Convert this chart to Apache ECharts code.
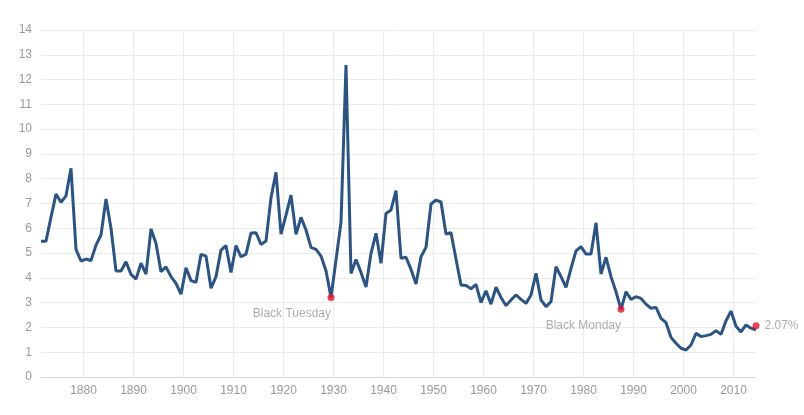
<!DOCTYPE html>
<html>
<head>
<meta charset="utf-8">
<title>S&amp;P 500 Dividend Yield</title>
<script src="https://cdn.jsdelivr.net/npm/echarts@6/dist/echarts.min.js"></script>
<style>
	html, body { margin: 0; padding: 0; background: #fff; }
	#chart { width: 804px; height: 415px; }
</style>
</head>
<body>
<div id="chart"></div>
<script>
// annual dividend yield, 1871 - 2014 (one value per year)
var firstYear = 1871;
var yieldValues = [
	5.48, 5.48, 6.45, 7.38, 7.05, 7.31, 8.42, 5.15, 4.68,             // 1871-1879
	4.76, 4.70, 5.32, 5.73, 7.18, 6.00, 4.28, 4.28, 4.65, 4.14,       // 1880s
	3.95, 4.59, 4.15, 5.97, 5.39, 4.25, 4.44, 4.05, 3.78, 3.34,       // 1890s
	4.41, 3.89, 3.82, 4.95, 4.88, 3.58, 4.05, 5.12, 5.30, 4.22,       // 1900s
	5.30, 4.85, 4.96, 5.81, 5.82, 5.35, 5.49, 7.23, 8.26, 5.76,       // 1910s
	6.53, 7.34, 5.76, 6.44, 5.93, 5.23, 5.15, 4.88, 4.29, 3.21,       // 1920s
	4.72, 6.24, 12.59, 4.18, 4.74, 4.22, 3.63, 4.99, 5.80, 4.59,      // 1930s
	6.60, 6.74, 7.52, 4.79, 4.83, 4.34, 3.75, 4.85, 5.23, 6.98,       // 1940s
	7.14, 7.06, 5.77, 5.82, 4.76, 3.71, 3.69, 3.56, 3.74, 3.00,       // 1950s
	3.48, 2.94, 3.62, 3.21, 2.88, 3.11, 3.31, 3.13, 2.97, 3.31,       // 1960s
	4.18, 3.11, 2.84, 3.04, 4.45, 4.05, 3.62, 4.38, 5.09, 5.26,       // 1970s
	4.96, 4.96, 6.22, 4.15, 4.83, 4.05, 3.44, 2.73, 3.44, 3.13,       // 1980s
	3.24, 3.17, 2.94, 2.77, 2.81, 2.37, 2.19, 1.60, 1.36, 1.16,       // 1990s
	1.09, 1.29, 1.76, 1.63, 1.67, 1.72, 1.87, 1.72, 2.27, 2.66,       // 2000s
	2.05, 1.82, 2.10, 1.97, 1.90                                      // 2010-2014
];
var years = yieldValues.map(function(v, i) { return firstYear + i; });

// decade ticks on the x axis
var xTickLabels = [1880, 1890, 1900, 1910, 1920, 1930, 1940, 1950, 1960, 1970, 1980, 1990, 2000, 2010];

// marked events
var eventYears = [1929, 1987];
var eventLabels = ['Black Tuesday', 'Black Monday'];
var currentYield = 2.07;
var currentYear = 2014;

var yTicks = { min: 0, max: 14, step: 1 };

// values are plotted at mid-year
var midYear = 0.5;

var lineData = years.map(function(y, i) {
	return [y + midYear, yieldValues[i]];
});

var labelStyle = {
	color: '#999',
	fontSize: 12,
	fontFamily: 'Liberation Sans, Arial, sans-serif'
};

var eventData = eventYears.map(function(y, i) {
	return {
		value: [y + midYear, yieldValues[y - firstYear]],
		label: Object.assign({
			show: true,
			position: 'bottom',
			align: 'right',
			distance: 7,
			formatter: eventLabels[i]
		}, labelStyle)
	};
});
eventData.push({
	value: [currentYear + midYear, currentYield],
	label: Object.assign({
		show: true,
		position: 'right',
		distance: 5,
		formatter: currentYield.toFixed(2) + '%'
	}, labelStyle)
});

var option = {
	animation: false,
	grid: {
		left: 41,
		right: 48,
		top: 30,
		bottom: 38
	},
	xAxis: {
		type: 'value',
		min: years[0] + midYear,
		max: years[years.length - 1] + midYear,
		axisLine: { lineStyle: { color: '#d6d6d6', width: 1 } },
		axisTick: { show: false, customValues: xTickLabels },
		splitLine: {
			show: true,
			lineStyle: { color: '#ebebeb', width: 1 }
		},
		axisLabel: Object.assign({
			margin: 8,
			customValues: xTickLabels,
			formatter: function(v) { return String(v); }
		}, labelStyle)
	},
	yAxis: {
		type: 'value',
		min: yTicks.min,
		max: yTicks.max,
		interval: yTicks.step,
		axisLine: { show: false },
		axisTick: { show: false },
		splitLine: { lineStyle: { color: '#ebebeb', width: 1 } },
		axisLabel: Object.assign({ margin: 9 }, labelStyle)
	},
	series: [{
		name: 'Dividend Yield',
		type: 'line',
		data: lineData,
		symbol: 'none',
		lineStyle: { color: '#2b5486', width: 3 },
		z: 2
	}, {
		name: 'Events',
		type: 'scatter',
		data: eventData,
		symbolSize: 7,
		itemStyle: { color: '#e8102c' },
		z: 3
	}]
};

var myChart = echarts.init(document.getElementById('chart'));
myChart.setOption(option);
</script>
</body>
</html>
